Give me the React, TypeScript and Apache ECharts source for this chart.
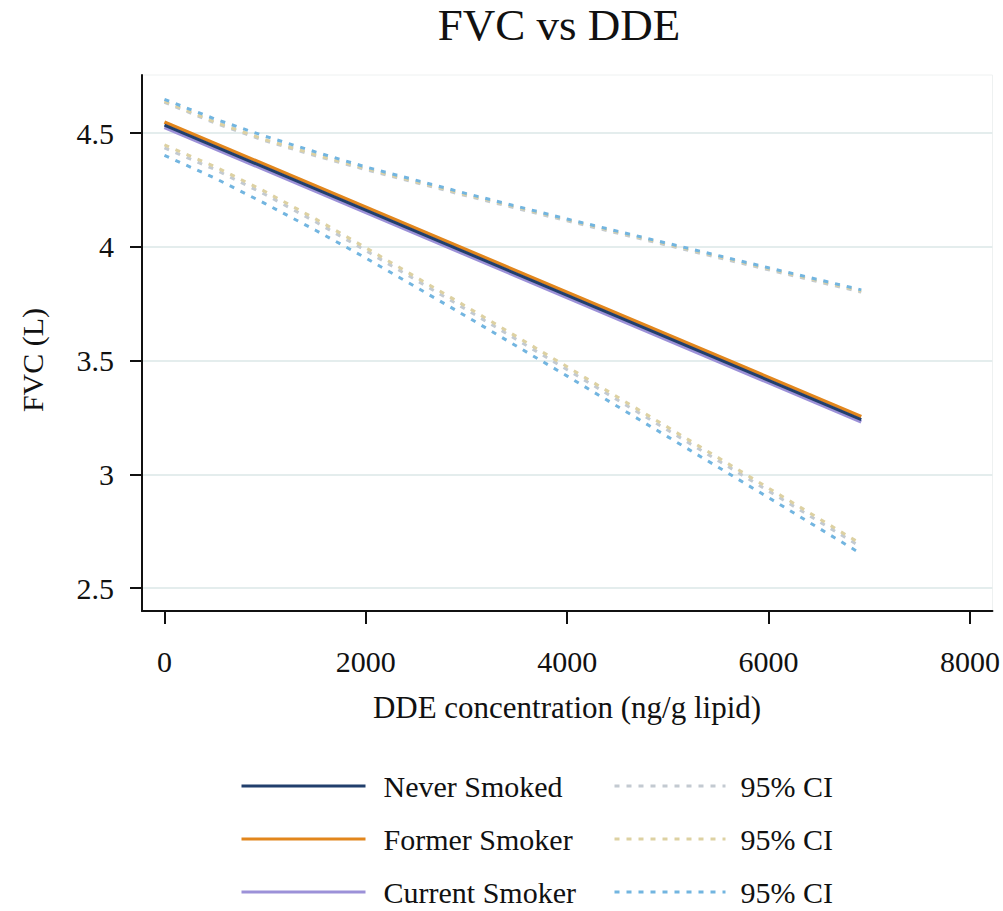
import React, { useEffect, useRef } from "react";
import * as echarts from "echarts";

// ---- data ----
const fitX = [0, 6920];
const neverFit = [4.535, 3.241];
const formerFit = [4.548, 3.254];
const currentFit = [4.525, 3.231];

const ciX = [0, 500, 1000, 1500, 2000, 3000, 4000, 5000, 6000, 6920];
const neverUpper = [4.635, 4.544, 4.466, 4.4, 4.339, 4.224, 4.114, 4.006, 3.899, 3.801];
const neverLower = [4.435, 4.34, 4.23, 4.11, 3.983, 3.724, 3.46, 3.194, 2.927, 2.681];
const formerUpper = [4.64, 4.549, 4.471, 4.405, 4.344, 4.229, 4.119, 4.011, 3.904, 3.806];
const formerLower = [4.448, 4.353, 4.243, 4.123, 3.996, 3.737, 3.473, 3.207, 2.94, 2.694];
const currentUpper = [4.648, 4.562, 4.486, 4.417, 4.351, 4.234, 4.122, 4.015, 3.908, 3.811];
const currentLower = [4.402, 4.302, 4.19, 4.073, 3.951, 3.694, 3.432, 3.165, 2.898, 2.651];

const xTicks = [0, 2000, 4000, 6000, 8000];
const yTicks = [2.5, 3, 3.5, 4, 4.5];

const groupNames = ["Never Smoked", "Former Smoker", "Current Smoker"];
const ciNames = ["Never Smoked 95% CI", "Former Smoker 95% CI", "Current Smoker 95% CI"];
const ciLabel = "95% CI";
const titleText = "FVC vs DDE";
const xTitle = "DDE concentration (ng/g lipid)";
const yTitle = "FVC (L)";

const FONT = "'Liberation Serif', 'Times New Roman', serif";
const fitColors = ["#213f6c", "#e2861c", "#9c91d8"];
const ciColors = ["#c3cad1", "#ddd1a2", "#72b5e0"];

const pairs = (xs: number[], ys: number[]) => xs.map((x, i) => [x, ys[i]]);

export default function App() {
  const ref = useRef<HTMLDivElement>(null);
  useEffect(() => {
    if (!ref.current) return;
    const chart = echarts.init(ref.current, undefined, { renderer: "svg" });

    const ciSeries = (name: string, color: string, ys: number[]) => ({
      type: "line",
      name,
      data: pairs(ciX, ys),
      symbol: "none",
      showSymbol: false,
      smooth: false,
      lineStyle: { color, width: 3, type: [5, 7] },
      itemStyle: { color },
    });
    const fitSeries = (name: string, color: string, ys: number[], width: number) => ({
      type: "line",
      name,
      data: pairs(fitX, ys),
      symbol: "none",
      showSymbol: false,
      lineStyle: { color, width, type: "solid" },
      itemStyle: { color },
    });

    const rows = [787, 840, 893];
    const legends: any[] = [];
    groupNames.forEach((n, i) => {
      legends.push({
        data: [n],
        left: 240,
        top: rows[i] - 16,
        padding: 0,
        itemWidth: 124,
        itemHeight: 14,
        selectedMode: false,
        itemStyle: { opacity: 0 },
        lineStyle: { width: 3, color: fitColors[i], type: "solid" },
        textStyle: { fontFamily: FONT, fontSize: 30, color: "#111", padding: [0, 0, 0, 13] },
      });
      legends.push({
        data: [ciNames[i]],
        left: 613,
        top: rows[i] - 16,
        padding: 0,
        itemWidth: 111,
        itemHeight: 14,
        selectedMode: false,
        formatter: () => ciLabel,
        itemStyle: { opacity: 0 },
        lineStyle: { width: 3, color: ciColors[i], type: [5, 7] },
        textStyle: { fontFamily: FONT, fontSize: 30, color: "#111", padding: [0, 0, 0, 10] },
      });
    });

    chart.setOption({
      animation: false,
      backgroundColor: "#ffffff",
      grid: {
        left: 142,
        right: 7,
        top: 75,
        bottom: 300,
        show: true,
        borderColor: "#eef1f1",
        borderWidth: 1,
      },
      legend: legends,
      xAxis: {
        type: "value",
        min: -223,
        max: 8223,
        axisLine: { show: true, onZero: false, lineStyle: { color: "#111", width: 2 } },
        axisTick: { show: true, customValues: xTicks, length: 13, lineStyle: { color: "#111", width: 2 } },
        axisLabel: {
          customValues: xTicks,
          margin: 35,
          fontFamily: FONT,
          fontSize: 30,
          color: "#111",
          formatter: (v: number) => String(v),
        },
        splitLine: { show: false },
      },
      yAxis: {
        type: "value",
        min: 2.4,
        max: 4.755,
        axisLine: { show: true, onZero: false, lineStyle: { color: "#111", width: 2 } },
        axisTick: { show: true, customValues: yTicks, length: 12, lineStyle: { color: "#111", width: 2 } },
        axisLabel: {
          customValues: yTicks,
          margin: 28,
          fontFamily: FONT,
          fontSize: 30,
          color: "#111",
          formatter: (v: number) => String(v),
        },
        splitLine: { show: true, lineStyle: { color: "#e4eded", width: 2 } },
      },
      graphic: [
        {
          type: "text",
          x: 559,
          y: 25,
          style: { text: titleText, fontFamily: FONT, fontSize: 45, fill: "#111", align: "center", verticalAlign: "middle" },
        },
        {
          type: "text",
          x: 567,
          y: 707,
          style: { text: xTitle, fontFamily: FONT, fontSize: 31, fill: "#111", align: "center", verticalAlign: "middle" },
        },
        {
          type: "text",
          x: 32,
          y: 360,
          rotation: Math.PI / 2,
          style: { text: yTitle, fontFamily: FONT, fontSize: 30, fill: "#111", align: "center", verticalAlign: "middle" },
        },
      ],
      series: [
        ciSeries(ciNames[0], ciColors[0], neverUpper),
        ciSeries(ciNames[0], ciColors[0], neverLower),
        ciSeries(ciNames[1], ciColors[1], formerUpper),
        ciSeries(ciNames[1], ciColors[1], formerLower),
        ciSeries(ciNames[2], ciColors[2], currentUpper),
        ciSeries(ciNames[2], ciColors[2], currentLower),
        fitSeries(groupNames[2], fitColors[2], currentFit, 3.5),
        fitSeries(groupNames[1], fitColors[1], formerFit, 3.5),
        fitSeries(groupNames[0], fitColors[0], neverFit, 3),
      ],
    });
    return () => chart.dispose();
  }, []);
  return (
    <div
      ref={ref}
      style={{ position: "fixed", left: 0, top: 0, width: 1003, height: 911, background: "#fff" }}
    />
  );
}
